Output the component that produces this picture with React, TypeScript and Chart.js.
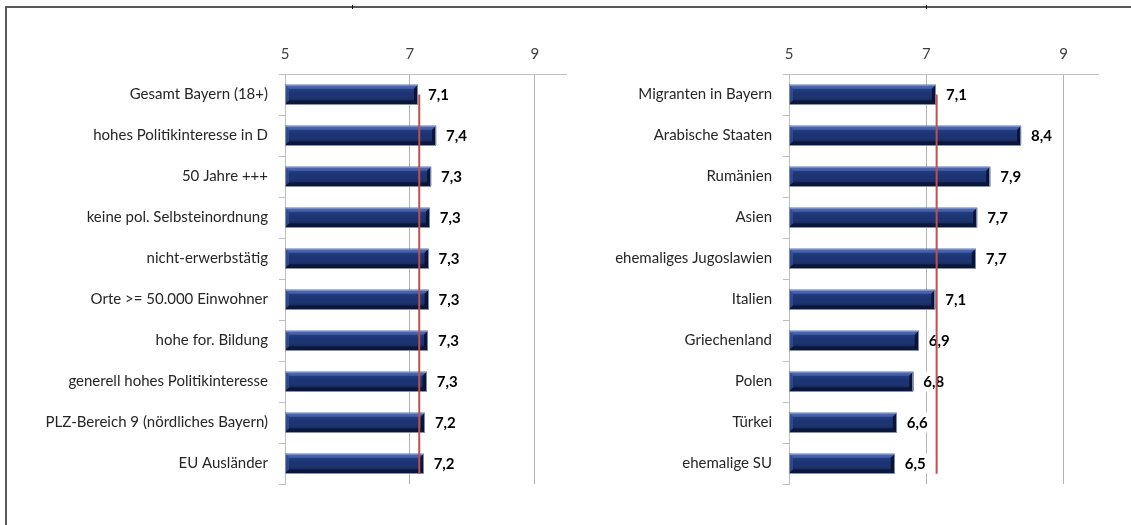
import React, { useEffect, useRef } from 'react';
import { Chart, registerables } from 'chart.js';

Chart.register(...registerables);

const leftCategories = [
  'Gesamt Bayern (18+)',
  'hohes Politikinteresse in D',
  '50 Jahre +++',
  'keine pol. Selbsteinordnung',
  'nicht-erwerbstätig',
  'Orte >= 50.000 Einwohner',
  'hohe for. Bildung',
  'generell hohes Politikinteresse',
  'PLZ-Bereich 9 (nördliches Bayern)',
  'EU Ausländer',
];
const leftValues = [7.13, 7.42, 7.34, 7.32, 7.3, 7.3, 7.29, 7.27, 7.24, 7.22];

const rightCategories = [
  'Migranten in Bayern',
  'Arabische Staaten',
  'Rumänien',
  'Asien',
  'ehemaliges Jugoslawien',
  'Italien',
  'Griechenland',
  'Polen',
  'Türkei',
  'ehemalige SU',
];
const rightValues = [7.14, 8.38, 7.93, 7.74, 7.72, 7.13, 6.89, 6.81, 6.57, 6.54];

const referenceValue = 7.15;
const axisTicks = [5, 7, 9];
const axisMin = 5;
const axisMax = 9.5;

const FONT = 'Lato, "Open Sans", sans-serif';

function fmt(v: number): string {
  return v.toFixed(1).replace('.', ',');
}

const decorPlugin = {
  id: 'barDecor',
  afterDatasetsDraw(chart: any) {
    const ctx: CanvasRenderingContext2D = chart.ctx;
    const meta = chart.getDatasetMeta(0);
    const values: number[] = chart.data.datasets[0].data;
    const xScale = chart.scales.x;
    const yScale = chart.scales.y;
    const area = chart.chartArea;

    ctx.save();
    // bottom tick of category axis
    ctx.strokeStyle = '#bfbfbf';
    ctx.lineWidth = 1;
    ctx.beginPath();
    ctx.moveTo(area.left - 6, Math.round(area.bottom) + 0.5);
    ctx.lineTo(area.left, Math.round(area.bottom) + 0.5);
    ctx.stroke();

    meta.data.forEach((bar: any) => {
      const { x, y, height } = bar.getProps(['x', 'y', 'height'], true);
      const base = area.left;
      const top = y - height / 2;
      const bottom = y + height / 2;
      const w = x - base;
      const b = 4;
      // face gradient
      const g = ctx.createLinearGradient(0, top, 0, bottom);
      g.addColorStop(0, 'rgba(90,120,200,0.35)');
      g.addColorStop(0.35, 'rgba(40,70,150,0.15)');
      g.addColorStop(0.6, 'rgba(0,0,0,0)');
      g.addColorStop(1, 'rgba(0,0,20,0.35)');
      ctx.fillStyle = g;
      ctx.fillRect(base, top, w, height);
      // top bevel
      ctx.fillStyle = 'rgba(95,125,200,0.55)';
      ctx.beginPath();
      ctx.moveTo(base, top);
      ctx.lineTo(x, top);
      ctx.lineTo(x - b, top + b);
      ctx.lineTo(base + b, top + b);
      ctx.closePath();
      ctx.fill();
      // bottom bevel
      ctx.fillStyle = 'rgba(5,12,40,0.6)';
      ctx.beginPath();
      ctx.moveTo(base + b, bottom - b);
      ctx.lineTo(x - b, bottom - b);
      ctx.lineTo(x, bottom);
      ctx.lineTo(base, bottom);
      ctx.closePath();
      ctx.fill();
      // left bevel
      ctx.fillStyle = 'rgba(70,100,180,0.45)';
      ctx.beginPath();
      ctx.moveTo(base, top);
      ctx.lineTo(base + b, top + b);
      ctx.lineTo(base + b, bottom - b);
      ctx.lineTo(base, bottom);
      ctx.closePath();
      ctx.fill();
      // right bevel
      ctx.fillStyle = 'rgba(5,10,35,0.75)';
      ctx.beginPath();
      ctx.moveTo(x, top);
      ctx.lineTo(x, bottom);
      ctx.lineTo(x - b, bottom - b);
      ctx.lineTo(x - b, top + b);
      ctx.closePath();
      ctx.fill();
      // outline
      ctx.strokeStyle = 'rgba(130,145,185,0.9)';
      ctx.lineWidth = 1;
      ctx.strokeRect(Math.round(base) + 0.5, Math.round(top) + 0.5, Math.round(w) - 1, Math.round(height) - 1);
    });

    // data labels with white box
    ctx.font = `bold 15px ${FONT}`;
    ctx.textBaseline = 'middle';
    ctx.textAlign = 'left';
    meta.data.forEach((bar: any, i: number) => {
      const { x, y } = bar.getProps(['x', 'y'], true);
      const text = fmt(values[i]);
      const tw = ctx.measureText(text).width;
      const lx = x + 10;
      ctx.fillStyle = '#ffffff';
      ctx.fillRect(lx - 2, y - 10, tw + 4, 20);
      ctx.fillStyle = '#000000';
      ctx.fillText(text, lx, y + 1);
    });

    // reference line
    const rx = xScale.getPixelForValue(referenceValue);
    const n = values.length;
    const y0 = yScale.getPixelForValue(0);
    const step = yScale.getPixelForValue(1) - y0;
    const y1 = yScale.getPixelForValue(n - 1) + step * 0.25;
    ctx.strokeStyle = '#c0504d';
    ctx.lineWidth = 2;
    ctx.beginPath();
    ctx.moveTo(rx, y0);
    ctx.lineTo(rx, y1);
    ctx.stroke();
    ctx.restore();
  },
};

function makeConfig(categories: string[], values: number[], yAxisWidth: number, padRight: number): any {
  return {
    type: 'bar',
    data: {
      labels: categories,
      datasets: [
        {
          data: values,
          backgroundColor: '#1d3575',
          borderWidth: 0,
          barPercentage: 0.48,
          categoryPercentage: 1,
        },
      ],
    },
    options: {
      indexAxis: 'y',
      responsive: false,
      animation: false,
      events: [],
      layout: { padding: { left: 0, right: padRight, top: 0, bottom: 41 } },
      plugins: { legend: { display: false }, tooltip: { enabled: false } },
      scales: {
        x: {
          position: 'top',
          min: axisMin,
          max: axisMax,
          afterBuildTicks: (s: any) => {
            s.ticks = axisTicks.map((v) => ({ value: v }));
          },
          afterFit: (s: any) => {
            s.height = 74;
          },
          grid: { drawTicks: false, color: '#b3b3b3', lineWidth: 1 },
          border: { display: true, color: '#bfbfbf' },
          ticks: { padding: 11, color: '#404040', font: { family: FONT, size: 15 } },
        },
        y: {
          type: 'category',
          offset: true,
          afterFit: (s: any) => {
            s.width = yAxisWidth;
          },
          grid: { offset: true, drawOnChartArea: false, drawTicks: true, tickLength: 6, color: '#bfbfbf' },
          border: { display: true, color: '#bfbfbf' },
          ticks: { padding: 11, color: '#262626', autoSkip: false, font: { family: FONT, size: 15 } },
        },
      },
    },
    plugins: [decorPlugin],
  };
}

export default function App() {
  const leftRef = useRef<HTMLCanvasElement>(null);
  const rightRef = useRef<HTMLCanvasElement>(null);

  useEffect(() => {
    document.body.style.margin = '0';
    const c1 = new Chart(leftRef.current as HTMLCanvasElement, makeConfig(leftCategories, leftValues, 285, 14));
    const c2 = new Chart(rightRef.current as HTMLCanvasElement, makeConfig(rightCategories, rightValues, 209, 33));
    return () => {
      c1.destroy();
      c2.destroy();
    };
  }, []);

  return (
    <div style={{ position: 'relative', width: 1131, height: 525, overflow: 'hidden', background: '#ffffff' }}>
      <div
        style={{
          position: 'absolute',
          left: 5,
          top: 6,
          width: 1200,
          height: 600,
          borderLeft: '2px solid #595959',
          borderTop: '2px solid #595959',
        }}
      />
      <div style={{ position: 'absolute', left: 352, top: 5, width: 1, height: 4, background: '#111' }} />
      <div style={{ position: 'absolute', left: 926, top: 5, width: 1, height: 4, background: '#111' }} />
      <canvas ref={leftRef} width={580} height={525} style={{ position: 'absolute', left: 0, top: 0 }} />
      <canvas ref={rightRef} width={551} height={525} style={{ position: 'absolute', left: 580, top: 0 }} />
    </div>
  );
}
